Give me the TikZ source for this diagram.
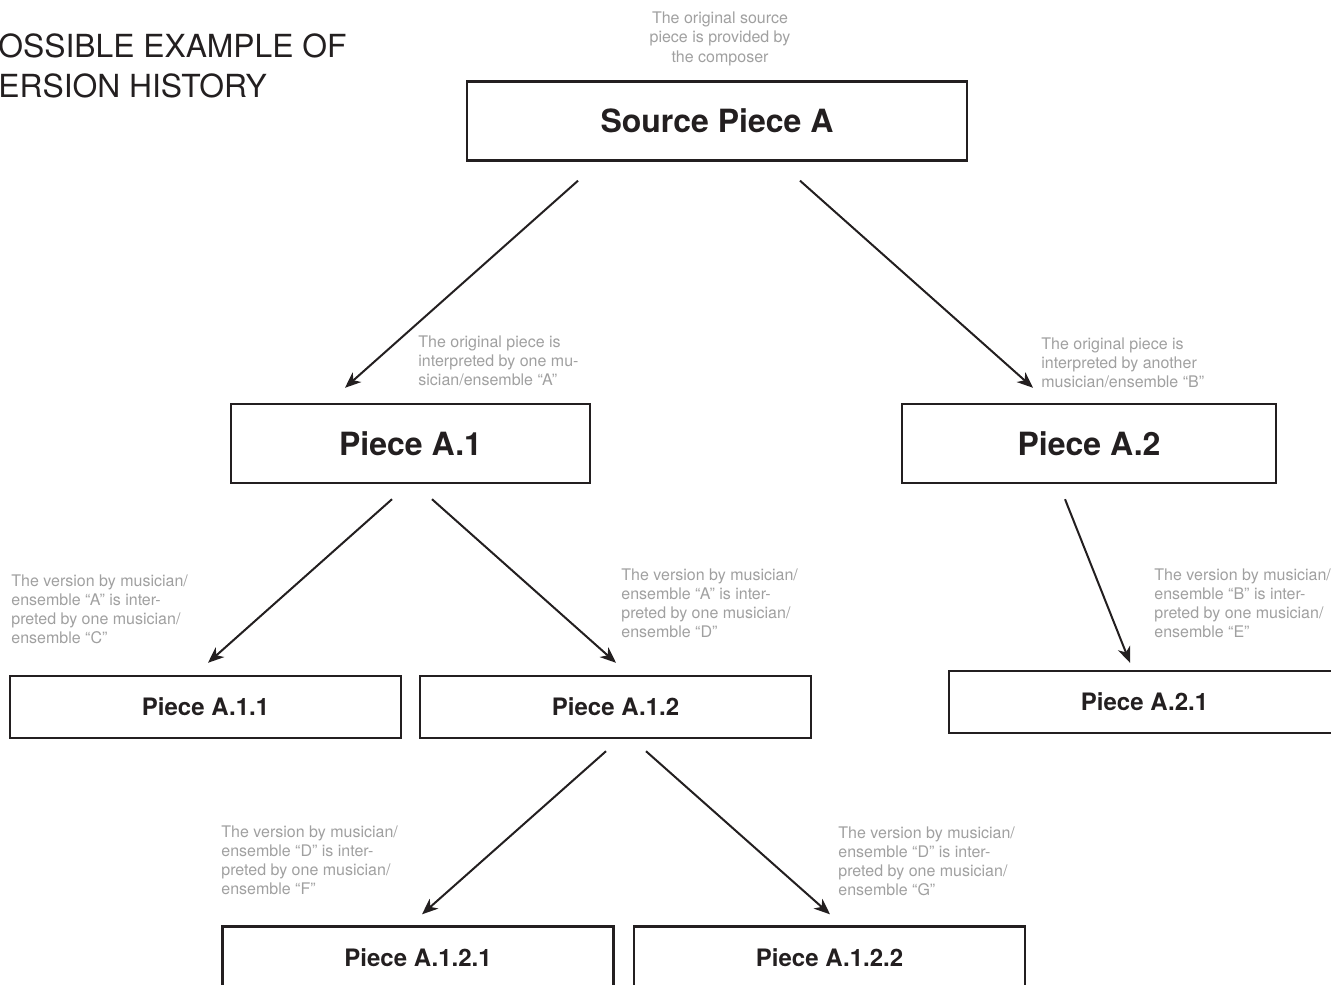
\documentclass[tikz,border=0pt]{standalone}
\usepackage{fontspec}
\setmainfont{TeX Gyre Heros}
\usetikzlibrary{arrows.meta,calc}

\definecolor{inkdark}{RGB}{35,31,32}
\definecolor{notegray}{RGB}{160,160,160}

\tikzset{
  bigpiece/.style={draw=inkdark, line width=1.2pt, inner sep=0pt, minimum height=39.5pt,
    text=inkdark, font=\fontsize{16}{19}\selectfont\bfseries},
  smallpiece/.style={draw=inkdark, line width=1.2pt, inner sep=0pt, minimum width=195.5pt,
    minimum height=31pt, text=inkdark, font=\fontsize{12}{14}\selectfont\bfseries},
  note/.style={anchor=north west, inner sep=0pt, align=left, text=notegray,
    font=\fontsize{8}{9.6}\selectfont},
  arr/.style={draw=inkdark, line width=1pt, -{Stealth[length=8pt,width=6.5pt,inset=2.4pt]}}
}

\begin{document}
\begin{tikzpicture}[x=0.5pt,y=-0.5pt]
\useasboundingbox (0,0) rectangle (1331,984);

% Text Node
\node (title) [anchor=north west, inner sep=0pt, align=left, text=inkdark,
  font=\fontsize{15.9}{20}\selectfont] at (-2,33) {OSSIBLE EXAMPLE OF\\ERSION HISTORY};

%Shape: Box
\node (src) [bigpiece, minimum width=250pt] at (717,121) {Source Piece A};
\node (a1) [bigpiece, minimum width=179.5pt] at (410.5,443.5) {Piece A.1};
\node (a2) [bigpiece, minimum width=187pt] at (1089,443.5) {Piece A.2};
\node (a11) [smallpiece] at (205.5,707) {Piece A.1.1};
\node (a12) [smallpiece] at (615.5,707) {Piece A.1.2};
\node (a21) [smallpiece] at (1144.5,702) {Piece A.2.1};
\node (a121) [smallpiece] at (418,957.5) {Piece A.1.2.1};
\node (a122) [smallpiece] at (829.5,957.5) {Piece A.1.2.2};

% Text Node
\node (nsrc) [anchor=north, inner sep=0pt, align=center, text=notegray,
  font=\fontsize{8}{9.75}\selectfont] at (720,11)
  {The original source\\piece is provided by\\the composer};
\node (na1) [note] at (418,335) {The original piece is\\interpreted by one mu-\\sician/ensemble “A”};
\node (na2) [note] at (1041,337) {The original piece is\\interpreted by another\\musician/ensemble “B”};
\node (na11) [note] at (11,574) {The version by musician/\\ensemble “A” is inter-\\preted by one musician/\\ensemble “C”};
\node (na12) [note] at (621,568) {The version by musician/\\ensemble “A” is inter-\\preted by one musician/\\ensemble “D”};
\node (na21) [note] at (1154,568) {The version by musician/\\ensemble “B” is inter-\\preted by one musician/\\ensemble “E”};
\node (na121) [note] at (221,825) {The version by musician/\\ensemble “D” is inter-\\preted by one musician/\\ensemble “F”};
\node (na122) [note] at (838,826) {The version by musician/\\ensemble “D” is inter-\\preted by one musician/\\ensemble “G”};

%Straight Lines
\draw [arr] ($(src.south)+(-139,19)$) -- ($(a1.north)+(-65.5,-15)$);
\draw [arr] ($(src.south)+(83,19)$) -- ($(a2.north)+(-56,-15)$);
\draw [arr] ($(a1.south)+(-18.5,15)$) -- ($(a11.north)+(2.5,-12)$);
\draw [arr] ($(a1.south)+(21.5,15)$) -- ($(a12.north)+(0.5,-12)$);
\draw [arr] ($(a2.south)+(-24,15)$) -- ($(a21.north)+(-14.5,-7)$);
\draw [arr] ($(a12.south)+(-9.5,12)$) -- ($(a121.north)+(4,-11)$);
\draw [arr] ($(a12.south)+(30.5,12)$) -- ($(a122.north)+(0.5,-11)$);

\end{tikzpicture}
\end{document}
